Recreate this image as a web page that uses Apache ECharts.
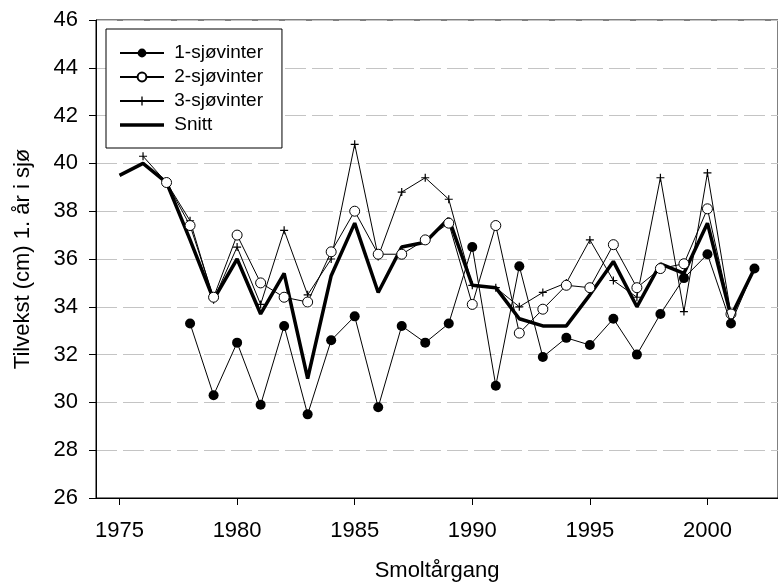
<!DOCTYPE html>
<html>
<head>
<meta charset="utf-8">
<script src="https://cdn.jsdelivr.net/npm/echarts@6/dist/echarts.min.js"></script>
<style>
  html, body { margin: 0; padding: 0; background: #fff; }
  #chart { width: 778px; height: 587px; }
</style>
</head>
<body>
<div id="chart"></div>
<script>
  // år og verdier lest av figuren
  const years1 = [1978, 1979, 1980, 1981, 1982, 1983, 1984, 1985, 1986, 1987, 1988, 1989, 1990,
                  1991, 1992, 1993, 1994, 1995, 1996, 1997, 1998, 1999, 2000, 2001, 2002]
  const sjo1 = [33.3, 30.3, 32.5, 29.9, 33.2, 29.5, 32.6, 33.6, 29.8, 33.2, 32.5, 33.3, 36.5,
                30.7, 35.7, 31.9, 32.7, 32.4, 33.5, 32.0, 33.7, 35.2, 36.2, 33.3, 35.6]

  const years2 = [1977, 1978, 1979, 1980, 1981, 1982, 1983, 1984, 1985, 1986, 1987, 1988, 1989,
                  1990, 1991, 1992, 1993, 1994, 1995, 1996, 1997, 1998, 1999, 2000, 2001]
  const sjo2 = [39.2, 37.4, 34.4, 37.0, 35.0, 34.4, 34.2, 36.3, 38.0, 36.2, 36.2, 36.8, 37.5,
                34.1, 37.4, 32.9, 33.9, 34.9, 34.8, 36.6, 34.8, 35.6, 35.8, 38.1, 33.7]

  const years3 = [1976, 1977, 1978, 1979, 1980, 1981, 1982, 1983, 1984, 1985, 1986, 1987, 1988,
                  1989, 1990, 1991, 1992, 1993, 1994, 1995, 1996, 1997, 1998, 1999, 2000, 2001]
  const sjo3 = [40.3, 39.2, 37.6, 34.3, 36.5, 34.1, 37.2, 34.5, 36.0, 40.8, 36.1, 38.8, 39.4,
                38.5, 34.9, 34.8, 34.0, 34.6, 35.0, 36.8, 35.1, 34.4, 39.4, 33.8, 39.6, 33.7]

  const yearsSnitt = [1975, 1976, 1977, 1978, 1979, 1980, 1981, 1982, 1983, 1984, 1985, 1986, 1987, 1988,
                      1989, 1990, 1991, 1992, 1993, 1994, 1995, 1996, 1997, 1998, 1999, 2000, 2001, 2002]
  const snitt = [39.5, 40.0, 39.2, 36.8, 34.3, 36.0, 33.7, 35.4, 31.0, 35.3, 37.5, 34.6, 36.5, 36.7,
                 37.7, 34.9, 34.8, 33.5, 33.2, 33.2, 34.5, 35.9, 34.0, 35.8, 35.4, 37.5, 33.6, 35.6]

  const xTicks = [1975, 1980, 1985, 1990, 1995, 2000]

  function pairs(xs, ys) {
    return xs.map(function (x, i) { return [x, ys[i]] })
  }

  const font = 'Liberation Sans, Arial, sans-serif'
  const plus = 'path://M-0.6,-4 L0.6,-4 L0.6,-0.6 L4,-0.6 L4,0.6 L0.6,0.6 L0.6,4 L-0.6,4 L-0.6,0.6 L-4,0.6 L-4,-0.6 L-0.6,-0.6 Z'
  // tykk strek som legendeikon for snittet
  const thickLine = 'path://M0,0 L44,0 L44,3.5 L0,3.5 Z'

  let chart = echarts.init(document.getElementById('chart'))
  chart.setOption({
    animation: false,
    grid: {
      left: 96,
      top: 20,
      right: -6,
      bottom: 85,
      show: true,
      borderColor: '#000',
      borderWidth: 1
    },
    legend: {
      data: ['1-sjøvinter', '2-sjøvinter', '3-sjøvinter', {name: 'Snitt', icon: thickLine}],
      orient: 'vertical',
      left: 106,
      top: 29,
      padding: [14, 19, 13, 13],
      itemWidth: 44,
      itemHeight: 11,
      itemGap: 4,
      symbolKeepAspect: true,
      borderColor: '#000',
      borderWidth: 1,
      backgroundColor: '#fff',
      formatter: function (name) { return ' ' + name },
      textStyle: {
        fontFamily: font,
        fontSize: 19,
        color: '#000',
        lineHeight: 20
      }
    },
    xAxis: {
      type: 'value',
      min: 1974,
      max: 2003,
      name: 'Smoltårgang',
      nameLocation: 'middle',
      nameGap: 62,
      nameTextStyle: { fontFamily: font, fontSize: 22, color: '#000' },
      axisLine: { show: true, lineStyle: { color: '#000', width: 1 } },
      axisTick: { show: true, customValues: xTicks, length: 7, lineStyle: { color: '#000' } },
      axisLabel: {
        customValues: xTicks,
        margin: 22,
        formatter: function (v) { return String(v) },
        fontFamily: font,
        fontSize: 22,
        color: '#000'
      },
      splitLine: { show: false }
    },
    yAxis: {
      type: 'value',
      min: 26,
      max: 46,
      interval: 2,
      name: 'Tilvekst (cm) 1. år i sjø',
      nameLocation: 'middle',
      nameGap: 62,
      nameRotate: 90,
      nameTextStyle: { fontFamily: font, fontSize: 22, color: '#000' },
      axisLine: { show: true, lineStyle: { color: '#000', width: 1 } },
      axisTick: { show: true, inside: false, length: 7, lineStyle: { color: '#000' } },
      axisLabel: { margin: 18, fontFamily: font, fontSize: 22, color: '#000' },
      splitLine: {
        show: true,
        lineStyle: { color: '#c4c4c4', width: 1.2, type: [21, 6] }
      }
    },
    series: [
      {
        name: 'Snitt',
        type: 'line',
        z: 2,
        symbol: 'none',
        lineStyle: { color: '#000', width: 3.5 },
        itemStyle: { color: '#000' },
        data: pairs(yearsSnitt, snitt)
      },
      {
        name: '3-sjøvinter',
        type: 'line',
        z: 3,
        symbol: plus,
        symbolSize: 8,
        lineStyle: { color: '#000', width: 1 },
        itemStyle: { color: '#000' },
        data: pairs(years3, sjo3)
      },
      {
        name: '2-sjøvinter',
        type: 'line',
        z: 4,
        symbol: 'circle',
        symbolSize: 10,
        lineStyle: { color: '#000', width: 1 },
        itemStyle: { color: '#fff', borderColor: '#000', borderWidth: 1 },
        data: pairs(years2, sjo2)
      },
      {
        name: '1-sjøvinter',
        type: 'line',
        z: 5,
        symbol: 'circle',
        symbolSize: 10,
        lineStyle: { color: '#000', width: 1 },
        itemStyle: { color: '#000' },
        data: pairs(years1, sjo1)
      }
    ]
  })
</script>
</body>
</html>
